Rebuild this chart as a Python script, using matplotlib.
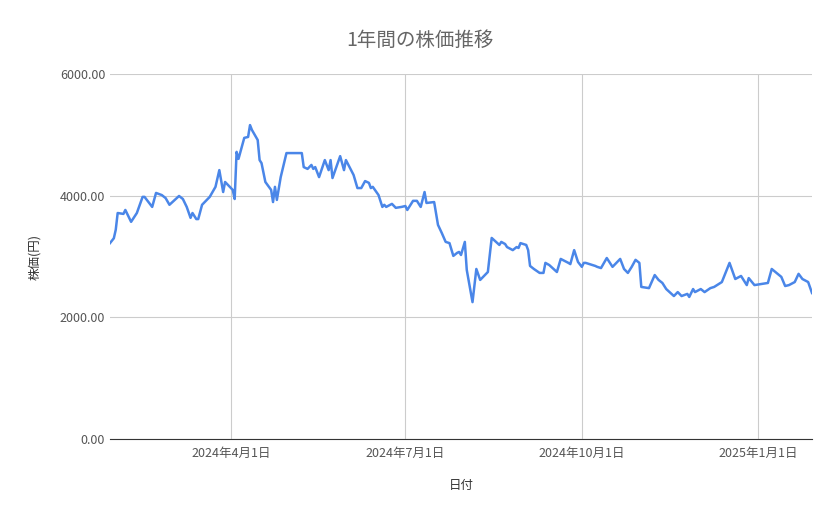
import datetime as dt
import matplotlib.pyplot as plt
import matplotlib.dates as mdates
from matplotlib.ticker import FuncFormatter

plt.rcParams['font.family'] = ['Noto Sans CJK JP', 'DejaVu Sans']

# 2024-01-29 からの経過日数と株価
kaishi = dt.date(2024, 1, 29)
nissu = [0, 2, 3, 4, 7, 8, 11, 14, 17, 18, 22, 24, 27, 29, 31, 36, 38, 40, 42, 43,
         45, 46, 48, 52, 55, 57, 59, 60, 64, 65, 66, 67, 70, 72, 73, 74, 77, 78, 79, 81,
         84, 85, 86, 87, 89, 92, 94, 100, 101, 103, 105, 106, 107, 109, 112, 114, 115, 116, 120, 122,
         123, 127, 129, 131, 133, 135, 136, 137, 140, 142, 143, 144, 147, 149, 152, 154, 155, 158, 160, 162,
         164, 165, 169, 171, 173, 175, 177, 179, 181, 182, 183, 185, 186, 189, 191, 193, 197, 199, 202, 203,
         204, 206, 207, 210, 212, 213, 214, 217, 218, 219, 221, 224, 226, 227, 229, 233, 235, 239, 240, 242,
         244, 246, 247, 248, 253, 254, 256, 259, 262, 266, 268, 270, 272, 274, 276, 277, 281, 284, 286, 288,
         290, 294, 296, 298, 301, 302, 304, 305, 308, 310, 313, 315, 319, 323, 326, 329, 332, 333, 336, 343,
         345, 350, 352, 354, 357, 359, 361, 364, 366]
kabuka = [3220, 3300, 3440, 3715, 3700, 3765, 3570, 3715, 3980, 3980, 3815, 4045, 4010, 3960, 3850, 3995, 3945, 3815, 3635, 3715,
          3615, 3615, 3850, 3980, 4145, 4420, 4060, 4225, 4095, 3945, 4720, 4605, 4950, 4965, 5160, 5080, 4915, 4585, 4535, 4225,
          4095, 3895, 4145, 3930, 4305, 4700, 4700, 4700, 4470, 4440, 4505, 4440, 4470, 4305, 4585, 4420, 4585, 4290, 4650, 4420,
          4585, 4340, 4125, 4125, 4240, 4210, 4125, 4145, 4010, 3815, 3850, 3815, 3865, 3800, 3815, 3830, 3765, 3915, 3915, 3815,
          4060, 3880, 3895, 3520, 3385, 3240, 3220, 3010, 3060, 3075, 3025, 3240, 2780, 2250, 2795, 2615, 2745, 3305, 3220, 3190,
          3240, 3205, 3155, 3105, 3155, 3140, 3220, 3190, 3105, 2845, 2795, 2730, 2730, 2895, 2860, 2745, 2960, 2895, 2875, 3105,
          2910, 2830, 2895, 2895, 2845, 2830, 2810, 2975, 2830, 2960, 2795, 2730, 2830, 2945, 2895, 2500, 2480, 2695, 2615, 2565,
          2465, 2350, 2415, 2350, 2385, 2335, 2465, 2415, 2465, 2415, 2480, 2500, 2580, 2895, 2630, 2680, 2530, 2645, 2530, 2565,
          2795, 2665, 2515, 2530, 2580, 2715, 2630, 2580, 2400]
hiduke = [kaishi + dt.timedelta(days=n) for n in nissu]

memori = [dt.date(2024, 4, 1), dt.date(2024, 7, 1), dt.date(2024, 10, 1), dt.date(2025, 1, 1)]
memori_label = ["2024年4月1日", "2024年7月1日", "2024年10月1日", "2025年1月1日"]

fig = plt.figure(figsize=(8.39, 5.19), dpi=100)
ax = fig.add_axes([110 / 839, 1 - 439 / 519, 702 / 839, 365 / 519])
ax.plot(hiduke, kabuka, color='#4a86e8', linewidth=1.8)

ax.set_xlim(kaishi, kaishi + dt.timedelta(days=366))
ax.set_ylim(0, 6000)
ax.set_yticks([0, 2000, 4000, 6000])
ax.yaxis.set_major_formatter(FuncFormatter(lambda v, p: f"{v:.2f}"))
ax.set_xticks(memori)
ax.set_xticklabels(memori_label)
ax.grid(True, color='#cccccc', linewidth=0.8)
ax.set_axisbelow(True)
for s in ['top', 'right', 'left']:
    ax.spines[s].set_visible(False)
ax.spines['bottom'].set_color('#333333')
ax.tick_params(length=0, colors='#555555', labelsize=9)
ax.tick_params(axis='x', pad=6)

fig.text(420 / 839, 1 - 40 / 519, "1年間の株価推移", ha='center', va='center', fontsize=14, color='#666666')
fig.text(35 / 839, 1 - 257 / 519, "株価(円)", rotation=90, ha='center', va='center', fontsize=9, color='#333333')
fig.text(461 / 839, 1 - 486 / 519, "日付", ha='center', va='center', fontsize=9, color='#333333')

fig.savefig("out.png", dpi=100)
